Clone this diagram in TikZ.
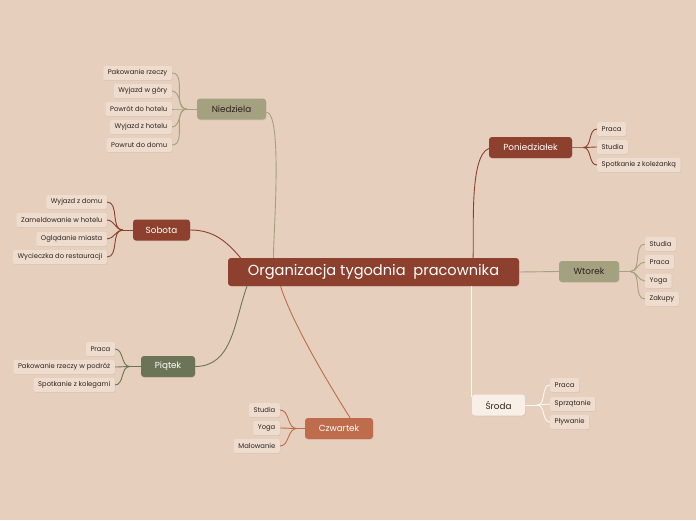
\documentclass[tikz,border=0pt]{standalone}
\usepackage{fontspec}
\setmainfont{Poppins}
\usetikzlibrary{shadows}
\definecolor{tlo}{RGB}{231,207,189}
\definecolor{liscie}{RGB}{238,220,206}
\definecolor{tekst}{RGB}{45,34,28}
\definecolor{brazowy}{RGB}{141,64,46}
\definecolor{oliwka}{RGB}{163,161,128}
\definecolor{ziel}{RGB}{108,116,87}
\definecolor{rudy}{RGB}{190,108,76}
\definecolor{jasny}{RGB}{248,239,231}

\begin{document}
\begin{tikzpicture}[x=1pt,y=-1pt,
    cien/.style={drop shadow={opacity=0.12,shadow xshift=0.6pt,shadow yshift=-0.9pt}},
    glowny/.style={cien,rounded corners=3pt,fill=brazowy,text=white,minimum height=28pt,
      minimum width=291pt,font=\fontsize{14.6}{17}\selectfont},
    dzien/.style={cien,rounded corners=3pt,fill=#1,text=white,minimum height=21pt,
      inner xsep=6pt,font=\fontsize{8.8}{10.5}\selectfont},
    lisc/.style={cien,rounded corners=2pt,fill=liscie,text=tekst,minimum height=14pt,
      inner xsep=4.5pt,inner ysep=2pt,font=\fontsize{6.8}{8}\selectfont},
    linia/.style={line width=0.9pt,draw=#1}]
  \fill[tlo] (0,0) rectangle (696,520);

  % centrum
  \node[glowny] (main) at (373.5,272) {Organizacja tygodnia\ \ pracownika};

  % dni tygodnia
  \node[dzien=oliwka,text=tekst,minimum width=69pt] (niedziela) at (231.5,109) {Niedziela};
  \node[dzien=brazowy,minimum width=57pt] (sobota) at (161.5,230) {Sobota};
  \node[dzien=ziel,minimum width=54pt] (piatek) at (168,366.5) {Piątek};
  \node[dzien=rudy,minimum width=68pt] (czwartek) at (339,428.5) {Czwartek};
  \node[dzien=jasny,text=tekst,minimum width=53pt] (sroda) at (498.5,405) {Środa};
  \node[dzien=oliwka,text=tekst,minimum width=60pt] (wtorek) at (589,271.5) {Wtorek};
  \node[dzien=brazowy,minimum width=83pt] (poniedzialek) at (530.5,147.5) {Poniedziałek};

  % galezie od centrum
  \draw[linia=oliwka] ([xshift=-100pt]main.north) to[out=92,in=0,looseness=0.3] ([yshift=-3pt]niedziela.east);
  \draw[linia=brazowy] ([xshift=-133pt]main.north) to[out=130,in=0] (sobota.east);
  \draw[linia=ziel] ([xshift=-126.5pt]main.south) to[out=-110,in=0] (piatek.east);
  \draw[linia=rudy] ([xshift=-93pt]main.south) to[out=-72,in=122,looseness=0.7] ([xshift=11pt]czwartek.north);
  \draw[linia=white!85!tlo] (main.south -| sroda.west) -- ([yshift=-3pt]sroda.north west);
  \draw[linia=oliwka] (main.east) -- (wtorek.west);
  \draw[linia=brazowy] ([xshift=99.5pt]main.north) to[out=86,in=200,looseness=0.5] ([yshift=-1pt]poniedzialek.west);

  % Niedziela
  \draw[linia=oliwka] (niedziela.west) -- ++(-10,0);
  \foreach \t/\y [count=\i] in {Pakowanie rzeczy/73,Wyjazd w góry/91,Powrót do hotelu/109,
      Wyjazd z hotelu/127,Powrut do domu/145} {
    \node[lisc,anchor=east] (nd\i) at (172,\y) {\t};
    \draw[linia=oliwka] ([xshift=-10pt]niedziela.west) to[out=180,in=0] (nd\i.east);
  }

  % Sobota
  \draw[linia=brazowy] (sobota.west) -- ++(-10,0);
  \foreach \t/\y [count=\i] in {Wyjazd z domu/202,Zameldowanie w hotelu/220,
      Oglądanie miasta/239,Wycieczka do restauracji/257} {
    \node[lisc,anchor=east] (so\i) at (107,\y) {\t};
    \draw[linia=brazowy] ([xshift=-10pt]sobota.west) to[out=180,in=0] (so\i.east);
  }

  % Piatek
  \draw[linia=ziel] (piatek.west) -- ++(-11,0);
  \foreach \t/\y [count=\i] in {Praca/349,Pakowanie rzeczy w podróż/367,Spotkanie z kolegami/385} {
    \node[lisc,anchor=east] (pi\i) at (115,\y) {\t};
    \draw[linia=ziel] ([xshift=-11pt]piatek.west) to[out=180,in=0] (pi\i.east);
  }

  % Czwartek
  \draw[linia=rudy] (czwartek.west) -- ++(-8,0);
  \foreach \t/\y [count=\i] in {Studia/410,Yoga/428,Malowanie/446} {
    \node[lisc,anchor=east] (cz\i) at (280,\y) {\t};
    \draw[linia=rudy] ([xshift=-8pt]czwartek.west) to[out=180,in=0] (cz\i.east);
  }

  % Sroda
  \draw[linia=white!85!tlo] (sroda.east) -- ++(12,0);
  \foreach \t/\y [count=\i] in {Praca/385,Sprzątanie/404,Pływanie/422} {
    \node[lisc,anchor=west] (sr\i) at (550,\y) {\t};
    \draw[linia=white!85!tlo] ([xshift=12pt]sroda.east) to[out=0,in=180] (sr\i.west);
  }

  % Wtorek
  \draw[linia=oliwka] (wtorek.east) -- ++(11,0);
  \foreach \t/\y [count=\i] in {Studia/244,Praca/262,Yoga/281,Zakupy/299} {
    \node[lisc,anchor=west] (wt\i) at (645,\y) {\t};
    \draw[linia=oliwka] ([xshift=11pt]wtorek.east) to[out=0,in=180] (wt\i.west);
  }

  % Poniedzialek
  \draw[linia=brazowy!70!tlo] (poniedzialek.east) -- ++(11,0);
  \foreach \t/\y [count=\i] in {Praca/129,Studia/147,Spotkanie z koleżanką/165} {
    \node[lisc,anchor=west] (po\i) at (597,\y) {\t};
    \draw[linia=brazowy] ([xshift=11pt]poniedzialek.east) to[out=0,in=180] (po\i.west);
  }
\end{tikzpicture}
\end{document}
